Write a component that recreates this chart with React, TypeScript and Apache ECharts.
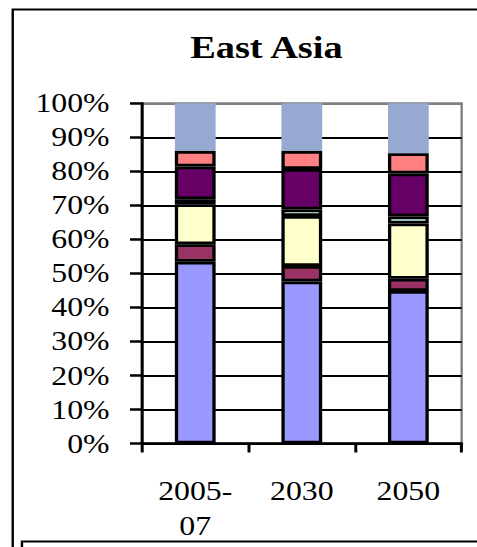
import React, { useEffect, useRef } from "react";
import * as echarts from "echarts";

const categories = ["2005-07", "2030", "2050"];
const seriesNames = ["S1", "S2", "S3", "S4", "S5", "S6", "S7"];
const s1 = [53.4, 47.6, 44.8];
const s2 = [5.2, 4.6, 3.6];
const s3 = [11.7, 14.7, 16.3];
const s4 = [1.5, 1.9, 2.0];
const s5 = [9.6, 11.9, 12.7];
const s6 = [4.6, 5.3, 5.9];
const s7 = [14.0, 14.0, 14.7];
const seriesValues = [s1, s2, s3, s4, s5, s6, s7];
const seriesColors = ["#9999FF", "#993366", "#FFFFCC", "#CCFFFF", "#660066", "#FF8080", "#95A9D1"];
const bordered = [true, true, true, true, true, true, false];
const titleText = "East Asia";

const SX = 1.2;
const W = 477 / SX;
const H = 547;
const FONT = "'Liberation Serif', 'Times New Roman', serif";

export default function App() {
  const ref = useRef<HTMLDivElement>(null);
  useEffect(() => {
    if (!ref.current) return;
    const chart = echarts.init(ref.current, null, { renderer: "svg" });
    const splitColors = Array.from({ length: 11 }, (_, i) => (i === 10 ? "#808080" : "#000000"));
    chart.setOption({
      animation: false,
      backgroundColor: "#ffffff",
      grid: {
        left: 118.3,
        right: W - 384.2,
        top: 103.3,
        bottom: H - 443.5,
        show: true,
        borderColor: "#808080",
        borderWidth: 2,
        backgroundColor: "transparent",
        outerBoundsMode: "none",
        containLabel: false,
      },
      xAxis: {
        type: "category",
        data: categories,
        boundaryGap: true,
        axisLine: { show: true, lineStyle: { color: "#000", width: 2.5 } },
        axisTick: { show: true, length: 9, lineStyle: { color: "#000", width: 2.5 } },
        axisLabel: {
          color: "#000",
          fontFamily: FONT,
          fontSize: 26.5,
          lineHeight: 35,
          margin: 30,
          formatter: (v: string) => v.replace("-", "-\n"),
        },
      },
      yAxis: {
        type: "value",
        min: 0,
        max: 100,
        interval: 10,
        axisLine: { show: true, lineStyle: { color: "#000", width: 2.5 } },
        axisTick: { show: true, length: 10, lineStyle: { color: "#000", width: 2.5 } },
        axisLabel: {
          color: "#000",
          fontFamily: FONT,
          fontSize: 26.5,
          margin: 27,
          formatter: "{value}%",
        },
        splitLine: { show: true, lineStyle: { color: splitColors, width: 2 } },
      },
      series: seriesValues.map((vals, i) => ({
        name: seriesNames[i],
        type: "bar",
        stack: "total",
        barWidth: 34,
        data: vals,
        itemStyle: {
          color: seriesColors[i],
          borderColor: "#000",
          borderWidth: bordered[i] ? 2.75 : 0,
        },
        z: bordered[i] ? 3 : 2,
      })),
      graphic: [
        {
          type: "rect",
          shape: { x: 10.6, y: 9.5, width: 600, height: 700 },
          style: { fill: "none", stroke: "#000", lineWidth: 2 },
          silent: true,
        },
        {
          type: "rect",
          shape: { x: 18.3, y: 541.5, width: 600, height: 60 },
          style: { fill: "none", stroke: "#000", lineWidth: 2 },
          silent: true,
        },
        {
          type: "text",
          x: 222,
          y: 48,
          style: {
            text: titleText,
            fontFamily: FONT,
            fontSize: 32,
            fontWeight: "bold",
            fill: "#000",
            align: "center",
            verticalAlign: "middle",
          },
        },
      ],
    });
    return () => chart.dispose();
  }, []);
  return (
    <div
      ref={ref}
      style={{
        position: "fixed",
        left: 0,
        top: 0,
        width: W,
        height: H,
        transform: `scaleX(${SX})`,
        transformOrigin: "0 0",
      }}
    />
  );
}
